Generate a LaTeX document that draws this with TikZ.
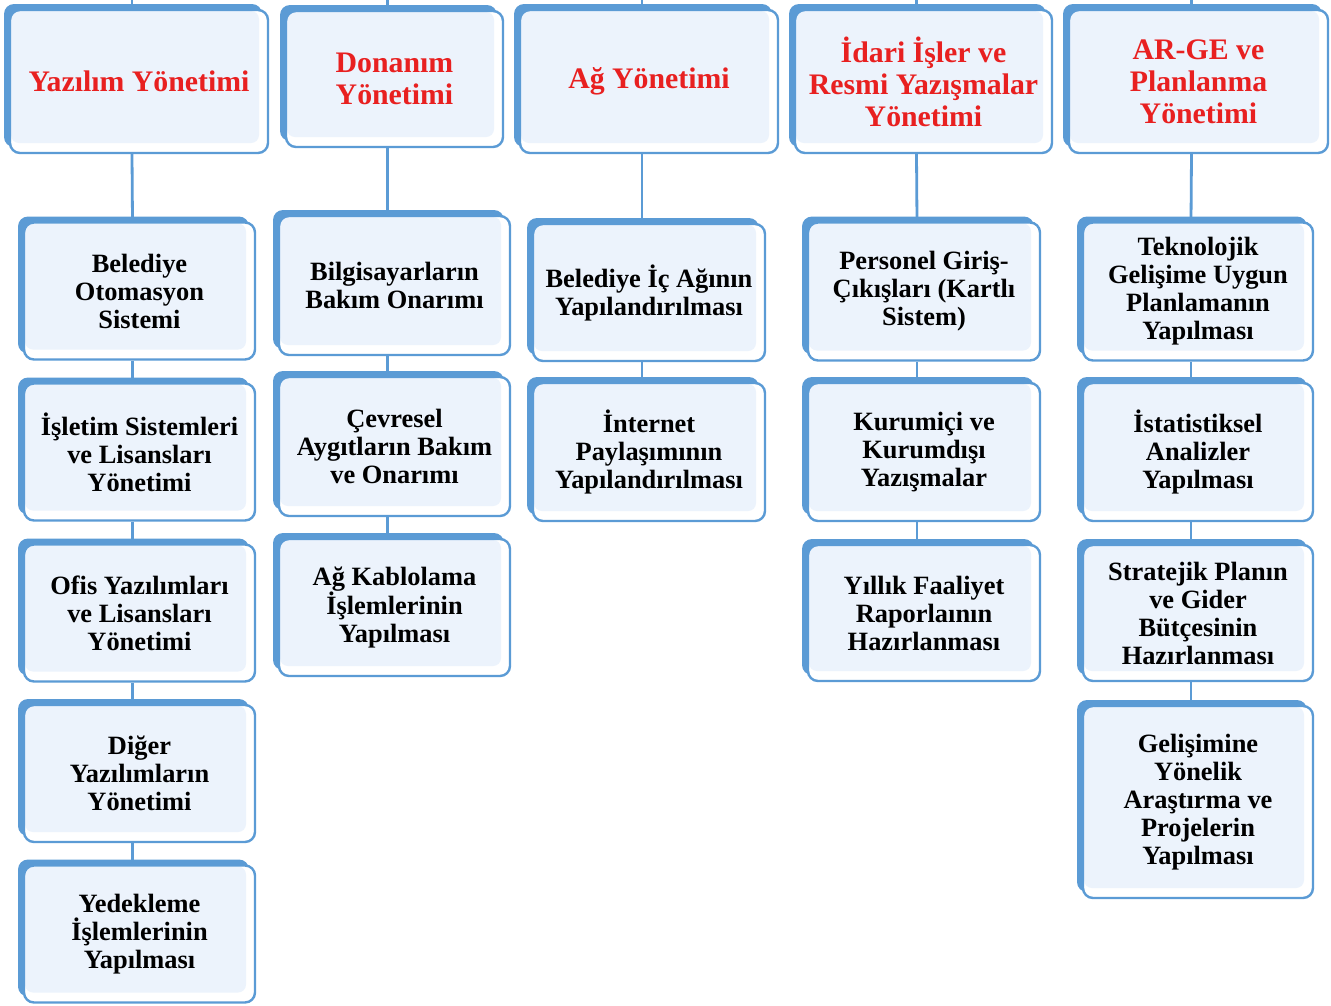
\documentclass[tikz,border=0pt]{standalone}
\usepackage{fontspec}
\setmainfont{Liberation Serif}
\usetikzlibrary{shadows,backgrounds}
\definecolor{kenar}{RGB}{91,155,213}
\definecolor{zemin}{RGB}{236,243,252}
\definecolor{baslikkirmizi}{RGB}{232,32,32}
\tikzset{
	kutu/.style={draw=kenar, line width=2.4pt, rounded corners=10pt, fill=white,
		align=center, inner sep=0pt,
		font=\bfseries\fontsize{26.4}{28}\selectfont,
		general shadow={fill=kenar, shadow xshift=-6pt, shadow yshift=6pt},
		path picture={\fill[zemin, rounded corners=8pt]
			([shift={(1pt,-1pt)}]path picture bounding box.north west) rectangle
			([shift={(-9pt,10pt)}]path picture bounding box.south east);}},
	baslik/.style={kutu, text=baslikkirmizi, font=\bfseries\fontsize{29.8}{32}\selectfont},
	bag/.style={draw=kenar, line width=2.8pt}
}

\begin{document}
\begin{tikzpicture}[x=1pt, y=-1pt]
			%%%%% START %%%%%
			\useasboundingbox (0,0) rectangle (1331,1005);
			
			% ust basliklar
			\node[baslik, minimum width=258pt, minimum height=143pt] (yazilim) at (139,81.5) {Yazılım Yönetimi};
			\node[baslik, minimum width=217pt, minimum height=136pt] (donanim) at (394.5,79) {Donanım\\Yönetimi};
			\node[baslik, minimum width=258pt, minimum height=143pt] (ag) at (649,81.5) {Ağ Yönetimi};
			\node[baslik, minimum width=257pt, minimum height=143pt] (idari) at (923.5,81.5) {İdari İşler ve\\Resmi Yazışmalar\\Yönetimi};
			\node[baslik, minimum width=259pt, minimum height=143pt] (arge) at (1198.5,81.5) {AR-GE ve\\Planlanma\\Yönetimi};
			
			% yazilim
			\node[kutu, minimum width=231pt, minimum height=137pt] (y1) at (139.5,291) {Belediye\\Otomasyon\\Sistemi};
			\node[kutu, minimum width=231pt, minimum height=137pt] (y2) at (139.5,452) {İşletim Sistemleri\\ve Lisansları\\Yönetimi};
			\node[kutu, minimum width=231pt, minimum height=137pt] (y3) at (139.5,613) {Ofis Yazılımları\\ve Lisansları\\Yönetimi};
			\node[kutu, minimum width=231pt, minimum height=137pt] (y4) at (139.5,773.5) {Diğer\\Yazılımların\\Yönetimi};
			\node[kutu, minimum width=231pt, minimum height=137pt] (y5) at (139.5,934) {Yedekleme\\İşlemlerinin\\Yapılması};
			
			% donanim
			\node[kutu, minimum width=231pt, minimum height=139pt] (d1) at (394.5,285.5) {Bilgisayarların\\Bakım Onarımı};
			\node[kutu, minimum width=231pt, minimum height=139pt] (d2) at (394.5,446.5) {Çevresel\\Aygıtların Bakım\\ve Onarımı};
			\node[kutu, minimum width=231pt, minimum height=137pt] (d3) at (394.5,607.5) {Ağ Kablolama\\İşlemlerinin\\Yapılması};
			
			% ag
			\node[kutu, minimum width=232pt, minimum height=137pt] (a1) at (649,292.5) {Belediye İç Ağının\\Yapılandırılması};
			\node[kutu, minimum width=232pt, minimum height=138pt] (a2) at (649,452) {İnternet\\Paylaşımının\\Yapılandırılması};
			
			% idari
			\node[kutu, minimum width=232pt, minimum height=138pt] (i1) at (924,291.5) {Personel Giriş-\\Çıkışları (Kartlı\\Sistem)};
			\node[kutu, minimum width=232pt, minimum height=138pt] (i2) at (924,452) {Kurumiçi ve\\Kurumdışı\\Yazışmalar};
			\node[kutu, minimum width=232pt, minimum height=136pt] (i3) at (924,613) {Yıllık Faaliyet\\Raporlaının\\Hazırlanması};
			
			% arge
			\node[kutu, minimum width=230pt, minimum height=138pt] (r1) at (1198,291.5) {Teknolojik\\Gelişime Uygun\\Planlamanın\\Yapılması};
			\node[kutu, minimum width=230pt, minimum height=138pt] (r2) at (1198,452) {İstatistiksel\\Analizler\\Yapılması};
			\node[kutu, minimum width=230pt, minimum height=136pt] (r3) at (1198,613) {Stratejik Planın\\ve Gider\\Bütçesinin\\Hazırlanması};
			\node[kutu, minimum width=230pt, minimum height=192pt] (r4) at (1198,802) {Gelişimine\\Yönelik\\Araştırma ve\\Projelerin\\Yapılması};
			
			% baglantilar
			\begin{scope}[on background layer]
				\foreach \a/\b in {yazilim/y1, y1/y2, y2/y3, y3/y4, y4/y5,
					donanim/d1, d1/d2, d2/d3, ag/a1, a1/a2,
					idari/i1, i1/i2, i2/i3, arge/r1, r1/r2, r2/r3, r3/r4}
					\draw[bag] ([xshift=-7pt]\a.south) -- ([xshift=-7pt]\b.north);
				\foreach \a in {yazilim, donanim, ag, idari, arge}
					\draw[bag] ([xshift=-7pt]\a.north) -- ++(0pt,16pt);
			\end{scope}
			
			%%%%% END %%%%%
\end{tikzpicture}
\end{document}
